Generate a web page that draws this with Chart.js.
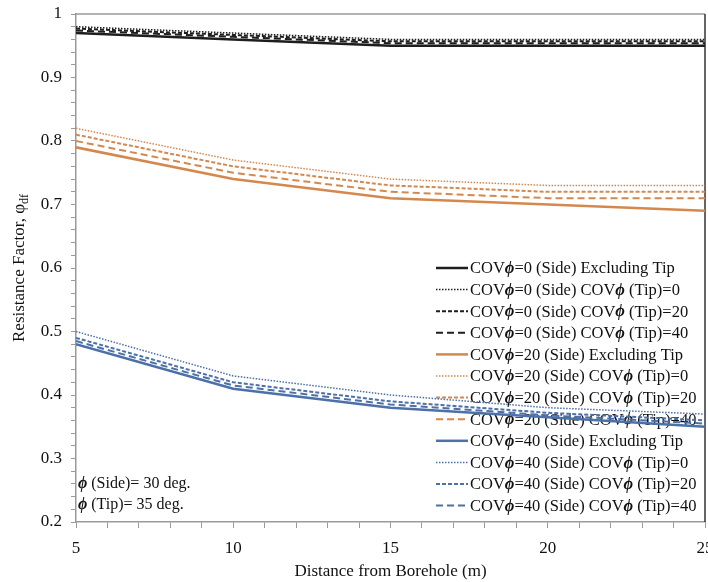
<!DOCTYPE html>
<html>
<head>
<meta charset="utf-8">
<script src="https://cdn.jsdelivr.net/npm/chart.js@4/dist/chart.umd.min.js"></script>
<style>
  html, body { margin: 0; padding: 0; background: #fff; }
  #wrap { width: 708px; height: 582px; }
</style>
</head>
<body>
<div id="wrap"><canvas id="chart" width="708" height="582"></canvas></div>
<script>
// distance from borehole (m)
const distances = [5, 10, 15, 20, 25];

// COV phi (side) = 0
const cov0Excl  = [0.970, 0.960, 0.950, 0.950, 0.950];
const cov0Tip0  = [0.980, 0.970, 0.960, 0.960, 0.960];
const cov0Tip20 = [0.977, 0.967, 0.957, 0.957, 0.957];
const cov0Tip40 = [0.974, 0.964, 0.954, 0.954, 0.954];

// COV phi (side) = 20
const cov20Excl  = [0.79, 0.74, 0.71, 0.70, 0.69];
const cov20Tip0  = [0.82, 0.77, 0.74, 0.73, 0.73];
const cov20Tip20 = [0.81, 0.76, 0.73, 0.72, 0.72];
const cov20Tip40 = [0.80, 0.75, 0.72, 0.71, 0.71];

// COV phi (side) = 40
const cov40Excl  = [0.480, 0.410, 0.380, 0.365, 0.350];
const cov40Tip0  = [0.500, 0.430, 0.400, 0.380, 0.370];
const cov40Tip20 = [0.490, 0.420, 0.390, 0.372, 0.360];
const cov40Tip40 = [0.485, 0.415, 0.385, 0.368, 0.355];

const labels = [
  'COVϕ=0 (Side) Excluding Tip', 'COVϕ=0 (Side) COVϕ (Tip)=0',
  'COVϕ=0 (Side) COVϕ (Tip)=20', 'COVϕ=0 (Side) COVϕ (Tip)=40',
  'COVϕ=20 (Side) Excluding Tip', 'COVϕ=20 (Side) COVϕ (Tip)=0',
  'COVϕ=20 (Side) COVϕ (Tip)=20', 'COVϕ=20 (Side) COVϕ (Tip)=40',
  'COVϕ=40 (Side) Excluding Tip', 'COVϕ=40 (Side) COVϕ (Tip)=0',
  'COVϕ=40 (Side) COVϕ (Tip)=20', 'COVϕ=40 (Side) COVϕ (Tip)=40'
];

const BLACK = '#1e1e1e';
const ORANGE = '#d4884e';
const BLUE = '#4c70a8';
const SERIF = '"Liberation Serif", "Times New Roman", serif';

const styles = [
  { dash: [], width: 2.5 },
  { dash: [1.5, 1.5], width: 1.5 },
  { dash: [4, 2], width: 2 },
  { dash: [7, 4], width: 2 }
];

function makeSet(label, values, color, s) {
  return {
    label: label,
    data: distances.map((d, i) => ({ x: d, y: values[i] })),
    borderColor: color,
    backgroundColor: color,
    borderWidth: s.width,
    borderDash: s.dash,
    pointRadius: 0,
    tension: 0,
    fill: false
  };
}

const seriesValues = [
  cov0Excl, cov0Tip0, cov0Tip20, cov0Tip40,
  cov20Excl, cov20Tip0, cov20Tip20, cov20Tip40,
  cov40Excl, cov40Tip0, cov40Tip20, cov40Tip40
];
const colors = [BLACK, ORANGE, BLUE];
const datasets = seriesValues.map((v, i) => makeSet(labels[i], v, colors[Math.floor(i / 4)], styles[i % 4]));

// draws text where every ϕ is bold italic
function richText(ctx, text, x, y, size) {
  const parts = text.split('ϕ');
  let cx = x;
  parts.forEach((p, i) => {
    ctx.font = size + 'px ' + SERIF;
    ctx.fillText(p, cx, y);
    cx += ctx.measureText(p).width;
    if (i < parts.length - 1) {
      ctx.font = 'italic bold ' + size + 'px ' + SERIF;
      ctx.fillText('ϕ', cx, y);
      cx += ctx.measureText('ϕ').width;
    }
  });
}

const extras = {
  id: 'extras',
  beforeDatasetsDraw(chart) {
    const ctx = chart.ctx;
    const a = chart.chartArea;
    ctx.save();
    // top and right frame
    ctx.lineWidth = 1.5;
    ctx.strokeStyle = '#9a9a9a';
    ctx.beginPath();
    ctx.moveTo(a.left, a.top);
    ctx.lineTo(a.right, a.top);
    ctx.stroke();
    ctx.strokeStyle = '#333';
    ctx.beginPath();
    ctx.moveTo(a.right, a.top);
    ctx.lineTo(a.right, a.bottom);
    ctx.stroke();

    // legend
    ctx.fillStyle = '#111';
    ctx.textBaseline = 'middle';
    const lx = 436, ly = 268, step = 21.6;
    chart.data.datasets.forEach((ds, i) => {
      const y = ly + i * step;
      ctx.strokeStyle = ds.borderColor;
      ctx.lineWidth = ds.borderWidth;
      ctx.setLineDash(ds.borderDash);
      ctx.beginPath();
      ctx.moveTo(lx, y);
      ctx.lineTo(lx + 32, y);
      ctx.stroke();
      ctx.setLineDash([]);
      richText(ctx, ds.label, lx + 34, y + 1, 16.5);
    });

    // friction angle notes
    richText(ctx, 'ϕ (Side)= 30 deg.', 78, 484, 16);
    richText(ctx, 'ϕ (Tip)= 35 deg.', 78, 505, 16);

    // y axis title with subscript
    ctx.translate(20, (a.top + a.bottom) / 2);
    ctx.rotate(-Math.PI / 2);
    const main = 'Resistance Factor, φ';
    ctx.font = '17px ' + SERIF;
    const w1 = ctx.measureText(main).width;
    ctx.font = '12px ' + SERIF;
    const w2 = ctx.measureText('df').width;
    const start = -(w1 + w2) / 2;
    ctx.textAlign = 'left';
    ctx.font = '17px ' + SERIF;
    ctx.fillText(main, start, 0);
    ctx.font = '12px ' + SERIF;
    ctx.fillText('df', start + w1, 5);
    ctx.restore();
  }
};

new Chart(document.getElementById('chart'), {
  type: 'line',
  data: { datasets: datasets },
  options: {
    responsive: false,
    animation: false,
    layout: { padding: { top: 14, right: 3, left: 0, bottom: 0 } },
    plugins: {
      legend: { display: false },
      tooltip: { enabled: false }
    },
    scales: {
      x: {
        type: 'linear',
        min: 5,
        max: 25,
        afterFit: s => { s.height = 60; s.paddingRight = 0; s.paddingLeft = 0; },
        ticks: {
          stepSize: 1,
          autoSkip: false,
          maxRotation: 0,
          padding: 10,
          color: '#111',
          font: { family: SERIF, size: 17 },
          callback: v => (v % 5 === 0 ? String(v) : '')
        },
        grid: { drawOnChartArea: false, drawTicks: true, tickLength: 6, color: '#9a9a9a' },
        border: { color: '#9a9a9a', width: 1.5 },
        title: {
          display: true,
          text: 'Distance from Borehole (m)',
          color: '#111',
          font: { family: SERIF, size: 17 },
          padding: { top: 0, bottom: 0 }
        }
      },
      y: {
        min: 0.2,
        max: 1,
        afterFit: s => { s.width = 76; s.paddingTop = 0; s.paddingBottom = 0; },
        ticks: {
          stepSize: 0.02,
          autoSkip: false,
          padding: 9,
          color: '#111',
          font: { family: SERIF, size: 17 },
          callback: v => {
            const t = v * 10;
            if (Math.abs(t - Math.round(t)) > 1e-6) return '';
            const r = Math.round(t) / 10;
            return r === 1 ? '1' : r.toFixed(1);
          }
        },
        grid: { drawOnChartArea: false, drawTicks: true, tickLength: 5, color: '#9a9a9a' },
        border: { color: '#9a9a9a', width: 1.5 }
      }
    }
  },
  plugins: [extras]
});
</script>
</body>
</html>
